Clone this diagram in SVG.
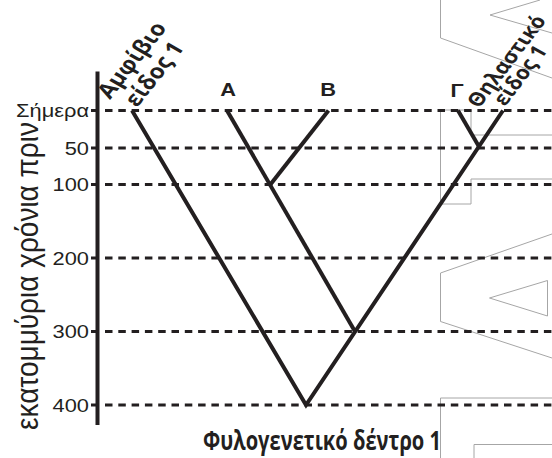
<svg xmlns="http://www.w3.org/2000/svg" width="552" height="458" viewBox="0 0 552 458">
<style>
.wm{fill:none;stroke:#a6a6a6;stroke-width:1}
.grid{stroke:#231f20;stroke-width:3;stroke-dasharray:7.5 5.8}
.tree{fill:none;stroke:#231f20;stroke-width:4;stroke-linecap:butt;stroke-linejoin:miter}
.axis{stroke:#231f20;stroke-width:4}
.tick{stroke:#231f20;stroke-width:3}
.num{font-family:"Liberation Sans",Arial,sans-serif;font-size:18.5px;fill:#231f20;text-anchor:end}
.ylab{font-family:"Liberation Sans",Arial,sans-serif;font-size:27px;fill:#231f20;text-anchor:middle}
.let{font-family:"Liberation Sans",Arial,sans-serif;font-size:18.5px;font-weight:bold;fill:#231f20;text-anchor:middle}
.sp{font-family:"Open Sans","Noto Sans",sans-serif;font-size:20.5px;font-weight:bold;fill:#231f20}
.sp2{font-family:"Open Sans","Noto Sans",sans-serif;font-size:19px;font-weight:bold;fill:#231f20}
.title{font-family:"Open Sans","Noto Sans",sans-serif;font-size:26px;font-weight:bold;fill:#231f20}
</style>
<g id="watermark">
<polyline class="wm" points="440.5,0 440.5,38 552,78"/>
<polyline class="wm" points="540,0 490,15 552,33"/>
<polyline class="wm" points="552,135 471,135 471,110 440.5,110 440.5,204 471,204 471,179 552,179"/>
<polyline class="wm" points="552,234 440.5,273 440.5,321.5 552,358"/>
<polygon class="wm" points="489.5,298 547.5,280.5 547.5,316"/>
<polyline class="wm" points="440.5,458 440.5,398 552,398"/>
<polyline class="wm" points="474,458 474,444.5 552,444.5"/>
</g>
<g id="grid">
<line class="grid" x1="105" y1="110.5" x2="552" y2="110.5"/>
<line class="grid" x1="105" y1="148" x2="552" y2="148"/>
<line class="grid" x1="105" y1="184.5" x2="552" y2="184.5"/>
<line class="grid" x1="105" y1="258" x2="552" y2="258"/>
<line class="grid" x1="105" y1="331.5" x2="552" y2="331.5"/>
<line class="grid" x1="105" y1="405" x2="552" y2="405"/>
</g>
<g id="axis">
<line class="axis" x1="97.5" y1="71.5" x2="97.5" y2="425"/>
<line class="tick" x1="91" y1="110.5" x2="98" y2="110.5"/>
<line class="tick" x1="91" y1="148" x2="98" y2="148"/>
<line class="tick" x1="91" y1="184.5" x2="98" y2="184.5"/>
<line class="tick" x1="91" y1="258" x2="98" y2="258"/>
<line class="tick" x1="91" y1="331.5" x2="98" y2="331.5"/>
<line class="tick" x1="91" y1="405" x2="98" y2="405"/>
<text class="num" transform="translate(89,117) scale(1.18,1)">Σήμερα</text>
<text class="num" transform="translate(89,154.5) scale(1.18,1)">50</text>
<text class="num" transform="translate(89,191) scale(1.18,1)">100</text>
<text class="num" transform="translate(89,264.5) scale(1.18,1)">200</text>
<text class="num" transform="translate(89,338) scale(1.18,1)">300</text>
<text class="num" transform="translate(89,411.5) scale(1.18,1)">400</text>
<text class="ylab" transform="translate(38,276) scale(1.18,1) rotate(-90)" textLength="308" lengthAdjust="spacingAndGlyphs">εκατομμύρια χρόνια πριν</text>
</g>
<g id="connectors">
<polyline class="tree" points="132,110.5 306,405 503,110.5"/>
<line class="tree" x1="227" y1="110.5" x2="355" y2="331.5"/>
<line class="tree" x1="328.5" y1="110.5" x2="270" y2="185"/>
<line class="tree" x1="458" y1="110.5" x2="479.5" y2="147.5"/>
</g>
<g id="node-amphibio">
<text class="sp" transform="translate(110,100) scale(1.18,1) rotate(-56)">Αμφίβιο</text>
<text class="sp" transform="translate(137,108) scale(1.18,1) rotate(-56)">είδος 1</text>
</g>
<g id="node-A"><text class="let" transform="translate(228,96) scale(1.18,1)">Α</text></g>
<g id="node-B"><text class="let" transform="translate(328,96) scale(1.18,1)">Β</text></g>
<g id="node-G"><text class="let" transform="translate(457,97) scale(1.18,1)">Γ</text></g>
<g id="node-thilastiko">
<text class="sp2" transform="translate(479,109) scale(1.18,1) rotate(-57)">Θηλαστικό</text>
<text class="sp2" transform="translate(505,107) scale(1.18,1) rotate(-57)">είδος 1</text>
</g>
<g id="title"><text class="title" x="203" y="450" textLength="238" lengthAdjust="spacingAndGlyphs">Φυλογενετικό δέντρο 1</text></g>
</svg>
